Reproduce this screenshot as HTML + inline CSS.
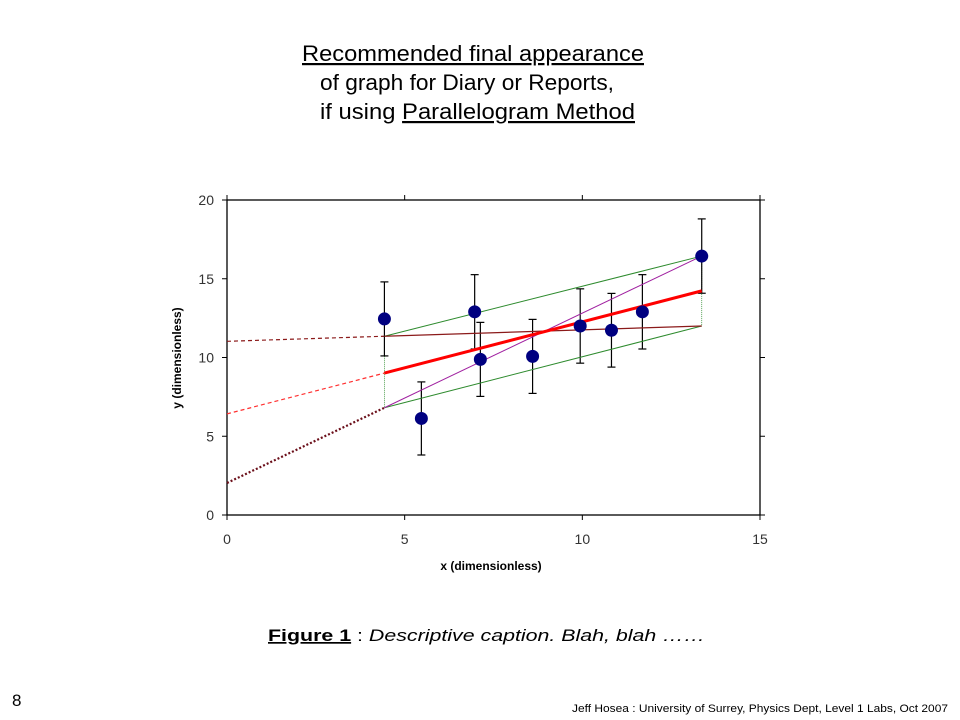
<!DOCTYPE html>
<html><head><meta charset="utf-8"><style>
html,body{margin:0;padding:0;background:#fff;}
svg{display:block;font-family:"Liberation Sans",Arial,sans-serif;}
</style></head><body>
<svg id="chart" width="960" height="720" viewBox="0 0 960 720">
<g font-size="22" fill="#000">
<text x="302" y="61" textLength="342" lengthAdjust="spacingAndGlyphs" text-decoration="underline">Recommended final appearance</text>
<text x="320" y="90" textLength="294" lengthAdjust="spacingAndGlyphs">of graph for Diary or Reports,</text>
<text x="320" y="119" textLength="315" lengthAdjust="spacingAndGlyphs">if using <tspan text-decoration="underline">Parallelogram Method</tspan></text>
</g>
<g id="plot"></g>
<text x="181" y="358" transform="rotate(-90 181 358)" text-anchor="middle" font-size="12" font-weight="bold">y (dimensionless)</text>
<text x="491" y="570" text-anchor="middle" font-size="12" font-weight="bold">x (dimensionless)</text>
<text x="268" y="641" font-size="17" textLength="437" lengthAdjust="spacingAndGlyphs"><tspan font-weight="bold" text-decoration="underline">Figure 1</tspan> : <tspan font-style="italic">Descriptive caption.  Blah, blah ……</tspan></text>
<text x="12" y="706" font-size="17">8</text>
<text x="572" y="712" font-size="11" textLength="376" lengthAdjust="spacingAndGlyphs">Jeff Hosea : University of Surrey, Physics Dept, Level 1 Labs, Oct 2007</text>
</svg>
<script>
const xVals=[4.43,5.47,6.97,7.13,8.6,9.94,10.82,11.69,13.36];
const yVals=[12.45,6.13,12.9,9.88,10.07,12.0,11.73,12.9,16.44];
const yErr=[2.35,2.32,2.36,2.35,2.35,2.36,2.34,2.36,2.36];
const xTicks=[0,5,10,15];
const yTicks=[0,5,10,15,20];
const xLeft=4.43, xRight=13.36;
const upperLine=[11.35,16.44];
const lowerLine=[6.81,12.0];
const bestLine=[9.01,14.23];

const X0=227,X1=760,Y0=515,Y1=200;
const sx=v=>X0+(v-0)/(15-0)*(X1-X0);
const sy=v=>Y0-(v-0)/(20-0)*(Y0-Y1);
const NS='http://www.w3.org/2000/svg';
const plot=document.getElementById('plot');
function mk(tag,attrs){const e=document.createElementNS(NS,tag);for(const k in attrs)e.setAttribute(k,attrs[k]);plot.appendChild(e);return e;}
function line(x1,y1,x2,y2,stroke,w,dash){const e=mk('line',{x1:x1,y1:y1,x2:x2,y2:y2,stroke:stroke,'stroke-width':w});if(dash)e.setAttribute('stroke-dasharray',dash);return e;}

let fr=mk('rect',{x:X0,y:Y1,width:X1-X0,height:Y0-Y1,fill:'none',stroke:'#000','stroke-width':1.3});


xTicks.forEach(t=>{
 let a=line(sx(t),Y0,sx(t),Y0+5,'#000',1);
 
 
 let b=line(sx(t),Y1-5,sx(t),Y1,'#000',1);
 
 
 let tx=mk('text',{x:sx(t),y:Y0+29,'text-anchor':'middle','font-size':14,fill:'#333'});tx.textContent=t;
 
 
});
yTicks.forEach(t=>{
 let a=line(X0-5,sy(t),X0,sy(t),'#000',1);
 
 
 let b=line(X1,sy(t),X1+5,sy(t),'#000',1);
 
 
 let tx=mk('text',{x:X0-13,y:sy(t)+5,'text-anchor':'end','font-size':14,fill:'#333'});tx.textContent=t;
 
 
});

const slope=l=>(l[1]-l[0])/(xRight-xLeft);
const minL=[upperLine[0],lowerLine[1]], maxL=[lowerLine[0],upperLine[1]];
[[minL,'#8b1a1a','4,3',1.2,'min-slope-extrapolation'],[bestLine,'#ff3030','4,3',1.2,'best-fit-extrapolation'],[maxL,'#6b0f1a','2,2',2.2,'max-slope-extrapolation']].forEach(([l,c,d,w,n])=>{
 const y0=l[0]-slope(l)*xLeft;
 let e=line(sx(0),sy(y0),sx(xLeft),sy(l[0]),c,w,d);
 
 
});
[[xLeft,upperLine[0],lowerLine[0]],[xRight,upperLine[1],lowerLine[1]]].forEach(([x,a,b])=>{
 let e=line(sx(x),sy(a),sx(x),sy(b),'#2e8b2e',0.8,'1,1');
 
 
});

xVals.forEach((x,i)=>{
 const cx=sx(x),t=sy(yVals[i]+yErr[i]),b=sy(yVals[i]-yErr[i]);
 const g=document.createElementNS(NS,'g');plot.appendChild(g);
 
 
 [[cx,t,cx,b],[cx-4,t,cx+4,t],[cx-4,b,cx+4,b]].forEach(c=>{const e=document.createElementNS(NS,'line');e.setAttribute('x1',c[0]);e.setAttribute('y1',c[1]);e.setAttribute('x2',c[2]);e.setAttribute('y2',c[3]);e.setAttribute('stroke','#000');e.setAttribute('stroke-width',1.2);g.appendChild(e);});
});

let u=line(sx(xLeft),sy(upperLine[0]),sx(xRight),sy(upperLine[1]),'#2e8b2e',1);


let lo=line(sx(xLeft),sy(lowerLine[0]),sx(xRight),sy(lowerLine[1]),'#2e8b2e',1);


let mx=line(sx(xLeft),sy(maxL[0]),sx(xRight),sy(maxL[1]),'#a020a0',1);


let mn=line(sx(xLeft),sy(minL[0]),sx(xRight),sy(minL[1]),'#8b1a1a',1.2);


let bf=line(sx(xLeft),sy(bestLine[0]),sx(xRight),sy(bestLine[1]),'#ff0000',3);



xVals.forEach((x,i)=>{
 const c=mk('circle',{cx:sx(x),cy:sy(yVals[i]),r:6.5,fill:'#000080'});
 
 
});
</script>
</body></html>
